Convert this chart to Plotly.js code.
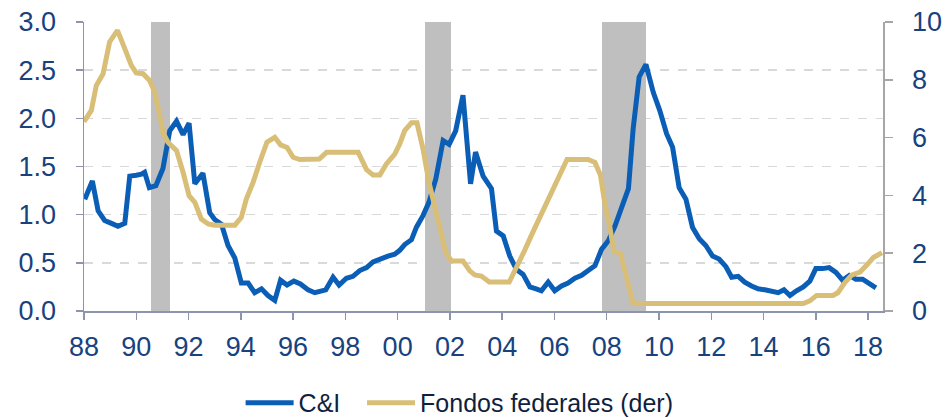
<!DOCTYPE html>
<html>
<head>
<meta charset="utf-8">
<script src="https://cdn.plot.ly/plotly-3.0.1.min.js"></script>
<style>
html,body{margin:0;padding:0;background:#fff;}
#chart{width:945px;height:418px;}
</style>
</head>
<body>
<div id="chart"></div>
<script>
// C&I charge-off rate (left axis, %)
var ciYears = [1988.03,1988.32,1988.54,1988.79,1989.05,1989.30,1989.56,1989.75,1990.00,1990.20,1990.32,1990.50,1990.75,1991.02,1991.28,1991.54,1991.79,1992.02,1992.24,1992.55,1992.81,1993.00,1993.26,1993.51,1993.77,1994.02,1994.28,1994.53,1994.79,1995.04,1995.30,1995.52,1995.77,1996.03,1996.28,1996.57,1996.83,1997.05,1997.25,1997.53,1997.76,1998.04,1998.29,1998.55,1998.81,1999.06,1999.32,1999.63,1999.89,2000.08,2000.27,2000.53,2000.72,2000.97,2001.20,2001.46,2001.74,2001.97,2002.22,2002.50,2002.79,2002.98,2003.27,2003.59,2003.78,2004.04,2004.29,2004.55,2004.80,2005.06,2005.30,2005.50,2005.76,2006.01,2006.27,2006.52,2006.78,2007.04,2007.29,2007.55,2007.80,2008.06,2008.31,2008.57,2008.83,2009.01,2009.24,2009.50,2009.78,2010.03,2010.29,2010.52,2010.77,2011.03,2011.28,2011.54,2011.79,2012.05,2012.30,2012.56,2012.78,2013.03,2013.28,2013.54,2013.79,2014.05,2014.31,2014.56,2014.78,2015.01,2015.26,2015.52,2015.77,2016.00,2016.26,2016.51,2016.77,2017.02,2017.28,2017.53,2017.79,2018.04,2018.30];
var ciValues = [1.16,1.35,1.04,0.94,0.91,0.88,0.91,1.40,1.41,1.42,1.44,1.28,1.30,1.48,1.87,1.97,1.83,1.95,1.32,1.43,1.02,0.95,0.90,0.68,0.55,0.29,0.29,0.19,0.23,0.16,0.11,0.32,0.27,0.31,0.28,0.22,0.19,0.20,0.22,0.35,0.27,0.34,0.36,0.42,0.45,0.51,0.54,0.57,0.59,0.63,0.69,0.74,0.87,0.99,1.13,1.37,1.77,1.73,1.87,2.24,1.32,1.65,1.40,1.27,0.83,0.78,0.57,0.43,0.38,0.25,0.23,0.21,0.30,0.21,0.26,0.29,0.34,0.37,0.42,0.47,0.64,0.73,0.88,1.06,1.27,1.89,2.43,2.56,2.27,2.08,1.84,1.70,1.28,1.16,0.87,0.75,0.68,0.57,0.54,0.46,0.35,0.36,0.30,0.26,0.23,0.22,0.20,0.19,0.22,0.16,0.21,0.25,0.31,0.44,0.44,0.45,0.40,0.32,0.37,0.33,0.33,0.29,0.24];

// Federal funds rate (right axis, %)
var ffYears = [1988.00,1988.28,1988.47,1988.73,1988.98,1989.28,1989.56,1989.81,1990.00,1990.26,1990.51,1990.71,1990.90,1991.02,1991.21,1991.54,1991.79,1992.02,1992.24,1992.49,1992.75,1993.00,1993.77,1994.02,1994.21,1994.47,1994.72,1995.00,1995.30,1995.52,1995.77,1996.00,1996.26,1996.64,1997.00,1997.28,1998.49,1998.81,1999.06,1999.32,1999.57,1999.89,2000.08,2000.27,2000.53,2000.74,2000.97,2001.20,2001.42,2001.61,2001.84,2002.06,2002.50,2002.76,2002.95,2003.20,2003.51,2004.27,2004.53,2004.85,2005.17,2005.50,2005.82,2006.14,2006.48,2007.29,2007.55,2007.76,2007.93,2008.12,2008.27,2008.53,2008.76,2009.01,2015.52,2015.77,2016.03,2016.66,2016.85,2017.11,2017.37,2017.69,2017.94,2018.20,2018.53];
var ffValues = [6.55,6.94,7.80,8.21,9.31,9.71,9.08,8.50,8.24,8.21,7.98,7.57,6.76,6.18,5.84,5.55,4.80,3.99,3.76,3.18,3.01,2.97,2.97,3.24,3.87,4.45,5.14,5.84,6.01,5.75,5.66,5.32,5.24,5.24,5.26,5.49,5.49,4.89,4.71,4.71,5.09,5.43,5.78,6.24,6.51,6.51,5.61,4.45,3.64,2.83,2.02,1.73,1.73,1.39,1.25,1.21,1.00,1.00,1.45,2.08,2.72,3.35,3.99,4.62,5.24,5.24,5.14,4.70,3.70,2.90,2.08,1.97,1.10,0.26,0.26,0.35,0.54,0.54,0.64,0.98,1.24,1.35,1.58,1.85,2.02];

// Recession periods (start, end, decimal years)
var recStart = [1990.55, 2001.05, 2007.80];
var recEnd   = [1991.28, 2002.03, 2009.52];
var recTop   = [3, 3, 3];

var xTickVals = [1988,1990,1992,1994,1996,1998,2000,2002,2004,2006,2008,2010,2012,2014,2016,2018];
var xTickText = ['88','90','92','94','96','98','00','02','04','06','08','10','12','14','16','18'];

var recMid = recStart.map(function(s,i){return (s+recEnd[i])/2;});
var recWidth = recStart.map(function(s,i){return recEnd[i]-s;});

var FONT = 'Liberation Sans, Arial, sans-serif';
var TICKCOL = '#17427E';
var AXCOL = '#8C95AD';
var LEGFONT = {family:FONT, size:25, color:'#0F1F40'};

var traces = [
  {type:'bar', x:recMid, y:recTop, width:recWidth, marker:{color:'#BFBFBF', line:{width:0}},
   showlegend:false, hoverinfo:'skip', yaxis:'y', xaxis:'x'},
  {type:'scatter', mode:'lines', name:'C&I', x:ciYears, y:ciValues,
   line:{color:'#0B5EB5', width:5}, yaxis:'y', xaxis:'x', legend:'legend'},
  {type:'scatter', mode:'lines', name:'Fondos federales (der)', x:ffYears, y:ffValues,
   line:{color:'#D8BE76', width:5}, yaxis:'y2', xaxis:'x', legend:'legend2'}
];

var layout = {
  width:945, height:418,
  margin:{l:84, r:62, t:22, b:107, autoexpand:false},
  paper_bgcolor:'#fff', plot_bgcolor:'#fff',
  font:{family:FONT, color:TICKCOL},
  bargap:0,
  showlegend:true,
  legend:{orientation:'h', x:0.196, xanchor:'left', y:-0.318, yanchor:'middle',
    font:LEGFONT, itemwidth:48, borderwidth:0, bgcolor:'rgba(0,0,0,0)'},
  legend2:{orientation:'h', x:0.348, xanchor:'left', y:-0.318, yanchor:'middle',
    font:LEGFONT, itemwidth:48, borderwidth:0, bgcolor:'rgba(0,0,0,0)'},
  xaxis:{type:'linear', range:[1988, 2018.57], tickmode:'array', tickvals:xTickVals, ticktext:xTickText,
    ticks:'outside', ticklen:7, tickwidth:1.5, tickcolor:AXCOL,
    showline:true, linecolor:AXCOL, linewidth:1.5, showgrid:false, zeroline:false,
    tickfont:{family:FONT, size:27, color:TICKCOL}, ticklabelstandoff:4, fixedrange:true},
  yaxis:{range:[0,3], tickmode:'array', tickvals:[0,0.5,1,1.5,2,2.5,3],
    ticktext:['0.0','0.5','1.0','1.5','2.0','2.5','3.0'],
    ticks:'outside', ticklen:7, tickwidth:1.5, tickcolor:AXCOL,
    showline:true, linecolor:AXCOL, linewidth:1.5,
    showgrid:true, gridcolor:'#D9D9D9', gridwidth:1.5, griddash:'dash', zeroline:false,
    tickfont:{family:FONT, size:27, color:TICKCOL}, ticklabelstandoff:14, fixedrange:true},
  yaxis2:{range:[0,10], overlaying:'y', side:'right', tickmode:'array', tickvals:[0,2,4,6,8,10],
    ticks:'outside', ticklen:8, tickwidth:1.5, tickcolor:'#A6A6A6',
    showline:true, linecolor:'#A6A6A6', linewidth:1.5, showgrid:false, zeroline:false,
    tickfont:{family:FONT, size:27, color:TICKCOL}, ticklabelstandoff:14, fixedrange:true}
};

Plotly.newPlot('chart', traces, layout, {displayModeBar:false, staticPlot:true});
</script>
</body>
</html>
